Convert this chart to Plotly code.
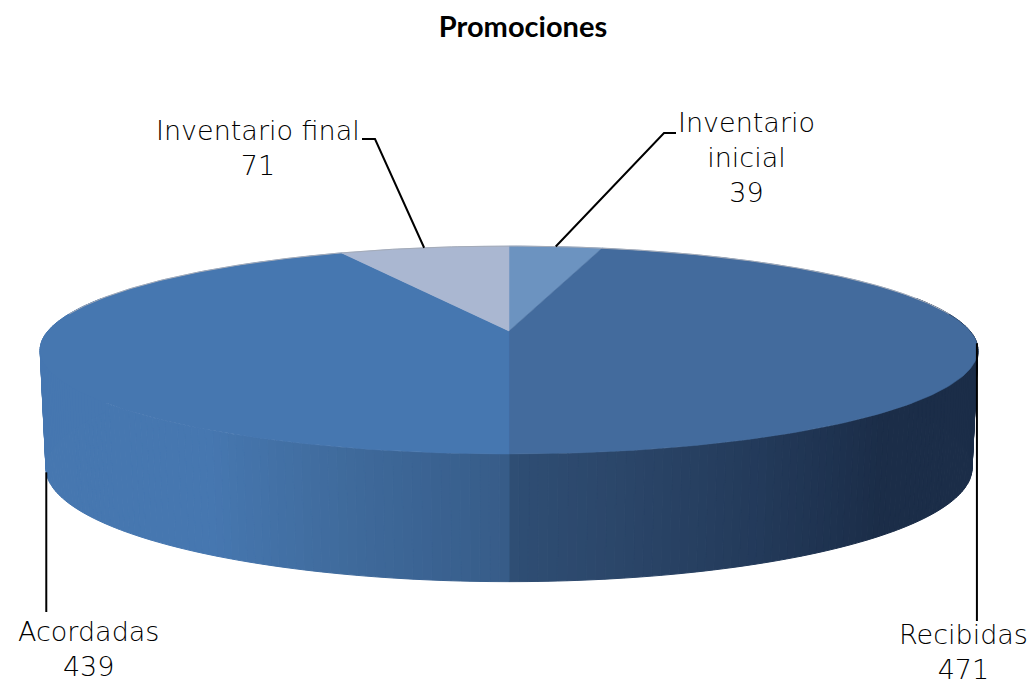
import numpy as np
import plotly.graph_objects as go

title = "Promociones"
categories = ["Inventario<br>inicial", "Recibidas", "Acordadas", "Inventario final"]
values = [39, 471, 439, 71]
top_colors = ["#6c93c0", "#436b9d", "#4677b0", "#aab7d1"]

# Horizontal shading of the pie's wall: pixel x -> colour
wall_x = [40, 210, 330, 440, 508, 511, 620, 760, 880, 980]
wall_rgb = [(70, 119, 176), (70, 119, 176), (64, 108, 158), (58, 98, 145), (55, 92, 136),
            (47, 78, 116), (43, 70, 105), (35, 58, 90), (27, 45, 72), (27, 45, 72)]

W, H = 1035, 688
CX = 509
TOP = dict(y0=331.0, a=461.0, b=100.5, k=0.1827)
BOT = dict(y0=447.5, a=455.5, b=110.0, k=0.18)


def project(theta_deg, p):
    t = np.radians(theta_deg)
    X, Y = np.sin(t), np.cos(t)
    w = 1 + p["k"] * Y
    return CX + p["a"] * X / w, p["y0"] - p["b"] * Y / w


def wall_color(x):
    c = [np.interp(x, wall_x, [v[i] for v in wall_rgb]) for i in range(3)]
    return "rgb(%d,%d,%d)" % tuple(int(round(v)) for v in c)


fig = go.Figure()

# Wall strips
edges = np.arange(70, 290.01, 1.0)
for t0, t1 in zip(edges[:-1], edges[1:]):
    xa, ya = project(np.array([t0, t1]), TOP)
    xb, yb = project(np.array([t1, t0]), BOT)
    xs = np.r_[xa, xb, xa[0]]
    ys = np.r_[ya, yb, ya[0]]
    col = wall_color(xs.mean())
    fig.add_trace(go.Scatter(x=xs, y=ys, mode="lines", fill="toself", fillcolor=col,
                             line=dict(color=col, width=1), hoverinfo="skip", showlegend=False))

# Top face slices
total = sum(values)
angles = np.cumsum([0] + values) / total * 360
for i, name in enumerate(categories):
    th = np.linspace(angles[i], angles[i + 1], 160)
    ex, ey = project(th, TOP)
    xs = np.r_[CX, ex, CX]
    ys = np.r_[TOP["y0"], ey, TOP["y0"]]
    fig.add_trace(go.Scatter(x=xs, y=ys, mode="lines", fill="toself", fillcolor=top_colors[i],
                             line=dict(color=top_colors[i], width=0.5),
                             name=name.replace("<br>", " "), text=f"{values[i]}", hoverinfo="name+text",
                             showlegend=False))

# Thin grey rim on the far edge
th = np.linspace(-80, 80, 200)
rx, ry = project(th, TOP)
fig.add_trace(go.Scatter(x=rx, y=ry, mode="lines", line=dict(color="#a4abb8", width=1),
                         hoverinfo="skip", showlegend=False))

# Leader lines start at each slice's mid-angle
mids = (angles[:-1] + angles[1:]) / 2
ax0, ay0 = project(mids[0], TOP)
ax1, ay1 = project(mids[1], TOP)
ax2, ay2 = project(mids[2], BOT)
ax3, ay3 = project(mids[3], TOP)
leaders = [
    ([ax0, 664, 676], [ay0, 133, 133]),
    ([ax1, ax1], [ay1, 621]),
    ([ax2, ax2], [ay2, 612]),
    ([ax3, 375, 362], [ay3, 139, 139]),
]
for lx, ly in leaders:
    fig.add_trace(go.Scatter(x=lx, y=ly, mode="lines", line=dict(color="black", width=2),
                             hoverinfo="skip", showlegend=False))

label_pos = [(746, 157), (963, 652), (88, 649), (258, 148)]
annotations = []
for (lx, ly), name, v in zip(label_pos, categories, values):
    annotations.append(dict(x=lx, y=ly, xref="x", yref="y", text=f"{name}<br>{v}", showarrow=False,
                            xanchor="center", yanchor="middle", align="center",
                            font=dict(family="DejaVu Sans", size=27, weight=200, color="#000000")))

fig.update_layout(
    width=W, height=H, margin=dict(l=0, r=0, t=0, b=0),
    paper_bgcolor="white", plot_bgcolor="white", showlegend=False,
    title=dict(text=f"<b>{title}</b>", x=523 / W, xanchor="center", y=1 - 27 / H, yanchor="middle",
               font=dict(family="Lato", size=29, color="black")),
    xaxis=dict(range=[0, W], visible=False, fixedrange=True),
    yaxis=dict(range=[H, 0], visible=False, fixedrange=True),
    annotations=annotations,
)
fig.write_html("out.html", config=dict(displayModeBar=False),
               post_script="document.body.style.margin='0';document.body.style.overflow='hidden';")
